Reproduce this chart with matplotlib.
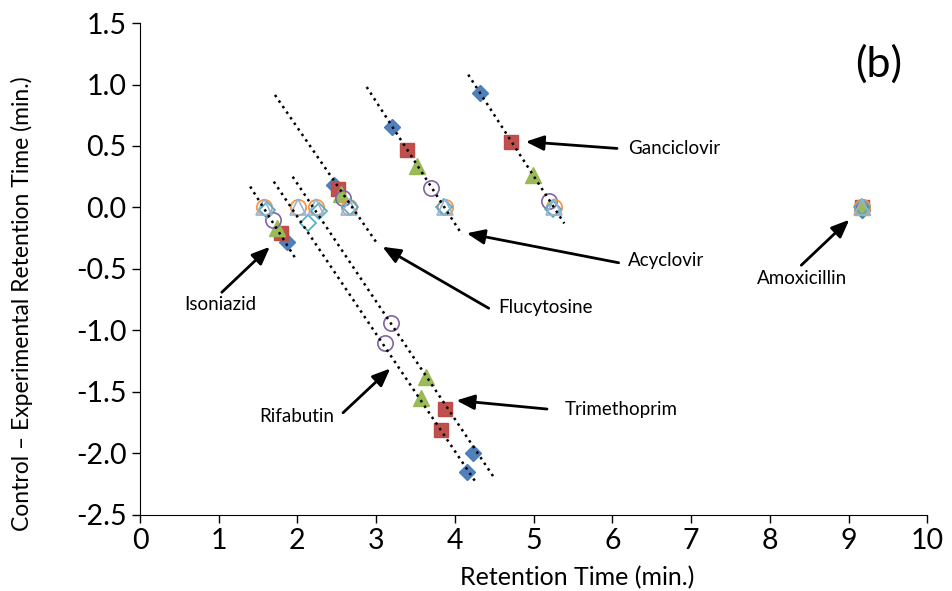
import matplotlib
matplotlib.use("Agg")
import matplotlib.pyplot as plt

plt.rcParams['font.family'] = ['Lato', 'DejaVu Sans']

# drug order: Isoniazid, Rifabutin, Trimethoprim, Flucytosine, Acyclovir, Ganciclovir, Amoxicillin
drugs = ["Isoniazid", "Rifabutin", "Trimethoprim", "Flucytosine", "Acyclovir", "Ganciclovir", "Amoxicillin"]

# each series: retention time (x) and control - experimental (y)
blue_x = [1.87, 4.16, 4.23, 2.46, 3.20, 4.32, 9.17]
blue_y = [-0.28, -2.15, -2.00, 0.18, 0.655, 0.93, -0.02]
red_x = [1.79, 3.82, 3.88, 2.51, 3.39, 4.71, 9.17]
red_y = [-0.205, -1.81, -1.64, 0.15, 0.47, 0.535, 0.0]
green_x = [1.74, 3.57, 3.63, 2.55, 3.52, 4.99, 9.17]
green_y = [-0.17, -1.55, -1.38, 0.11, 0.34, 0.26, 0.0]
purple_x = [1.69, 3.11, 3.19, 2.58, 3.70, 5.20, 9.17]
purple_y = [-0.10, -1.10, -0.94, 0.08, 0.16, 0.05, 0.0]
orange_x = [1.58, 2.01, 2.24, 2.66, 3.87, 5.26, 9.17]
orange_y = [0.0, 0.0, 0.0, 0.0, 0.0, 0.0, 0.0]
cyan_x = [1.61, 2.14, 2.28, 2.67, 3.86, 5.25, 9.17]
cyan_y = [-0.02, -0.13, -0.03, 0.0, 0.0, -0.01, 0.0]
ltblue_x = [1.58, 2.01, 2.24, 2.66, 3.87, 5.26, 9.17]
ltblue_y = [0.0, 0.0, 0.0, 0.0, 0.0, 0.0, 0.0]

# dotted trend lines (start / end) per drug
trend_drugs = ["Isoniazid", "Rifabutin", "Trimethoprim", "Flucytosine", "Acyclovir", "Ganciclovir"]
trend_x = [(1.40, 1.99), (1.70, 4.26), (1.94, 4.50), (1.715, 3.02), (2.88, 4.09), (4.17, 5.39)]
trend_y = [(0.17, -0.43), (0.21, -2.23), (0.25, -2.20), (0.915, -0.30), (0.98, -0.22), (1.08, -0.13)]

# label annotations: text position, arrow tail, arrow tip
label_pos = [(1.02, -0.79), (1.99, -1.70), (5.40, -1.64), (4.55, -0.81), (6.20, -0.43), (6.20, 0.48), (8.41, -0.58)]
label_ha = ["center", "center", "left", "left", "left", "left", "center"]
arrow_tail = [(1.04, -0.69), (2.58, -1.67), (5.17, -1.64), (4.43, -0.82), (6.08, -0.45), (6.06, 0.48), (8.40, -0.47)]
arrow_tip = [(1.65, -0.32), (3.18, -1.31), (4.02, -1.57), (3.08, -0.32), (4.15, -0.21), (4.90, 0.535), (9.01, -0.10)]

fig = plt.figure(figsize=(9.52, 5.91), dpi=100)
ax = fig.add_axes([0.147, 0.129, 0.827, 0.832])

for tx, ty in zip(trend_x, trend_y):
    ax.plot(tx, ty, color='black', lw=1.8, linestyle=(0, (1, 1.7)), zorder=5)

ax.plot(blue_x, blue_y, 'D', ls='none', ms=8.5, color='#4F81BD', mec='#4A7EBB', zorder=3)
ax.plot(red_x, red_y, 's', ls='none', ms=10.5, color='#C0504D', mec='#BE4B48', zorder=3)
ax.plot(green_x, green_y, '^', ls='none', ms=11, color='#9BBB59', mec='#98B954', zorder=3)
ax.plot(purple_x, purple_y, 'o', ls='none', ms=11, mfc='none', mec='#8064A2', mew=1.2, zorder=3)
ax.plot(orange_x, orange_y, 'o', ls='none', ms=11, mfc='none', mec='#F79646', mew=1.3, zorder=3)
ax.plot(cyan_x, cyan_y, 'D', ls='none', ms=8.5, mfc='none', mec='#4BACC6', mew=1.2, zorder=3)
ax.plot(ltblue_x, ltblue_y, '^', ls='none', ms=11, mfc='none', mec='#95B3D7', mew=1.2, zorder=3)

for name, pos, ha, tail, tip in zip(drugs, label_pos, label_ha, arrow_tail, arrow_tip):
    ax.annotate('', xy=tip, xytext=tail,
                arrowprops=dict(arrowstyle='-|>,head_length=0.6,head_width=0.25',
                                color='black', lw=2, mutation_scale=18,
                                shrinkA=0, shrinkB=0))
    ax.text(pos[0], pos[1], name, ha=ha, va='center', fontsize=13.5)

ax.text(9.38, 1.17, "(b)", ha='center', va='center', fontsize=31)

ax.set_xlim(0, 10)
ax.set_ylim(-2.5, 1.5)
ax.set_xticks(range(0, 11))
ax.set_yticks([-2.5, -2.0, -1.5, -1.0, -0.5, 0.0, 0.5, 1.0, 1.5])
ax.set_yticklabels(["-2.5", "-2.0", "-1.5", "-1.0", "-0.5", "0.0", "0.5", "1.0", "1.5"])
ax.tick_params(direction='out', length=6, width=1, labelsize=20.5)
ax.spines['top'].set_visible(False)
ax.spines['right'].set_visible(False)
ax.set_xlabel("Retention Time (min.)", fontsize=18)
ax.set_ylabel("Control \u2013 Experimental Retention Time (min.)", fontsize=16.5)
ax.xaxis.set_label_coords(0.555, -0.104)
ax.yaxis.set_label_coords(-0.136, 0.43)

fig.savefig("out.png", dpi=100)
